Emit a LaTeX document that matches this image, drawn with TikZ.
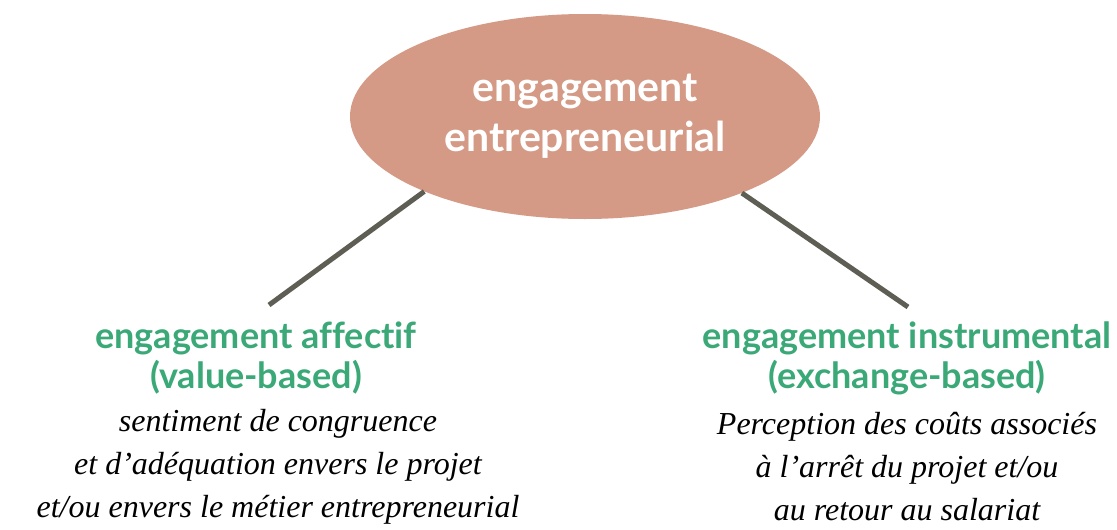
\documentclass[tikz,border=0pt]{standalone}
\usepackage{fontspec}
\setmainfont{Liberation Serif}
\setsansfont{Lato}[Ligatures={NoCommon}]
\usetikzlibrary{shapes.geometric}
\definecolor{saumon}{HTML}{D49A85}
\definecolor{vert}{HTML}{3BA977}
\definecolor{gris}{HTML}{5E5E55}
\begin{document}
\begin{tikzpicture}[x=1pt,y=-1pt]
	% Styles (MODIFIABLES)
	\tikzstyle{trait}=[-,line width=5pt,draw=gris]
	\tikzstyle{racine}=[ellipse,fill=saumon,text=white,inner sep=0pt,minimum width=470pt,minimum height=205pt,align=center,font=\sffamily\bfseries\fontsize{41}{50}\selectfont]
	\tikzstyle{titre}=[text=vert,align=center,font=\sffamily\bfseries\fontsize{36}{40}\selectfont]
	\tikzstyle{commentaire}=[black,align=center,font=\itshape\fontsize{32}{43}\selectfont]
	% Dimensions (MODIFIABLES)
	\def\ColonneA{256}
	\def\ColonneB{907}
	\def\NiveauTitre{358}
	\def\NiveauTexte{467}
	\useasboundingbox (0,0) rectangle (1117,530);
	% Noeuds
	\node[racine] (R) at (585,116.5) {engagement\\entrepreneurial};
	\node[titre] (Ra) at (\ColonneA,\NiveauTitre) {engagement affectif\\(value-based)};
	\node[commentaire] (Raa) at (\ColonneA+22,\NiveauTexte) {sentiment de congruence\\et d’adéquation envers le projet\\et/ou envers le métier entrepreneurial};
	\node[titre] (Rb) at (\ColonneB,\NiveauTitre) {engagement instrumental\\(exchange-based)};
	\node[commentaire] (Rba) at (\ColonneB,\NiveauTexte) {Perception des coûts associés\\à l’arrêt du projet et/ou\\au retour au salariat};
	\coordinate (Pa) at (269,305);
	\coordinate (Pb) at (908,307);
	% Arcs
	\draw[trait] (R.205) -- (Pa);
	\draw[trait] (R.334) -- (Pb);
\end{tikzpicture}
\end{document}
